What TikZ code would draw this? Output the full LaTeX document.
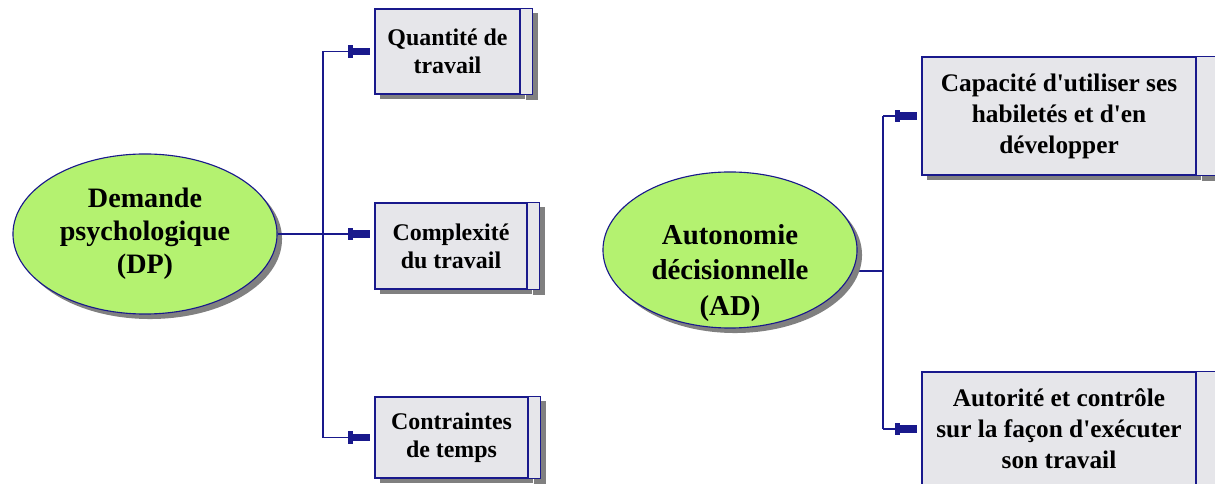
\documentclass[tikz,border=0pt]{standalone}
\usepackage{fontspec}
\setmainfont{Liberation Serif}
\usetikzlibrary{shapes.geometric,shadows,arrows.meta,backgrounds}

\definecolor{marine}{RGB}{25,25,140}
\definecolor{gris}{RGB}{230,230,234}
\definecolor{ombre}{RGB}{128,128,128}
\definecolor{vert}{RGB}{180,242,112}

\tikzset{
  ombree/.style={drop shadow={shadow xshift=0.125cm,shadow yshift=-0.125cm,fill=ombre,opacity=1}},
  dimension/.style={ellipse,draw=marine,line width=.8pt,fill=vert,ombree,inner sep=0pt,align=center},
  boite/.style={rectangle,draw=marine,line width=.8pt,fill=gris,ombree,inner sep=0pt,align=center},
  bande/.style={draw=marine,line width=.8pt,fill=gris,ombree},
  lien/.style={draw=marine,line width=1pt},
  fleche/.style={lien,-{Rectangle[length=4pt,width=9pt]Rectangle[length=12pt,width=5pt]},shorten >=3pt}
}

\begin{document}
\begin{tikzpicture}[x=0.025cm,y=-0.025cm]
  \useasboundingbox (0,0) rectangle (1215,484);
  \clip (0,0) rectangle (1215,484);

  % demande psychologique
  \node[dimension,minimum width=6.6cm,minimum height=4cm,
    font=\fontsize{20}{23.5}\bfseries\selectfont] (dp) at (145,234) {Demande\\psychologique\\(DP)};
  \node[boite,minimum width=3.625cm,minimum height=2.125cm,
    font=\fontsize{17}{20}\bfseries\selectfont] (b1) at (447.5,51.5) {Quantité de\\travail};
  \path[bande] (b1.north east) rectangle ([xshift=0.3cm]b1.south east);
  \node[boite,minimum width=3.8cm,minimum height=2.15cm,
    font=\fontsize{17}{20}\bfseries\selectfont] (b2) at (451,246) {Complexité\\du travail};
  \path[bande] (b2.north east) rectangle ([xshift=0.3cm]b2.south east);
  \node[boite,minimum width=3.825cm,minimum height=2.025cm,
    font=\fontsize{17}{20}\bfseries\selectfont] (b3) at (451.5,437.5) {Contraintes\\de temps};
  \path[bande] (b3.north east) rectangle ([xshift=0.3cm]b3.south east);

  \coordinate (jdp) at (323,234);
  \draw[lien] (dp.east) -- (jdp);
  \draw[lien] (jdp |- b1) -- (jdp |- b3);
  \draw[fleche] (jdp |- b1) -- (b1);
  \draw[fleche] (jdp) -- (jdp -| b2.west);
  \draw[fleche] (jdp |- b3) -- (b3);

  % autonomie decisionnelle
  \node[dimension,minimum width=6.35cm,minimum height=3.9cm] (ad) at (730,250) {};
  \node[align=center,font=\fontsize{20.5}{25}\bfseries\selectfont] (adtexte) at (730,273) {Autonomie\\décisionnelle\\(AD)};
  \node[boite,minimum width=6.85cm,minimum height=2.95cm,
    font=\fontsize{18}{22}\bfseries\selectfont] (b4) at (1059,116) {Capacité d\textquotesingle utiliser ses\\habiletés et d\textquotesingle en\\développer};
  \path[bande] (b4.north east) rectangle ([xshift=0.9cm]b4.south east);
  \node[boite,minimum width=6.85cm,minimum height=2.85cm,
    font=\fontsize{18}{22}\bfseries\selectfont] (b5) at (1059,429) {Autorité et contrôle\\sur la façon d\textquotesingle exécuter\\son travail};
  \path[bande] (b5.north east) rectangle ([xshift=0.9cm]b5.south east);

  \coordinate (jad) at (883,271);
  \begin{scope}[on background layer]
    \draw[lien] (jad -| ad) -- (jad);
  \end{scope}
  \draw[lien] (jad |- b4) -- (jad |- b5);
  \draw[fleche] (jad |- b4) -- (b4);
  \draw[fleche] (jad |- b5) -- (b5);
\end{tikzpicture}
\end{document}
